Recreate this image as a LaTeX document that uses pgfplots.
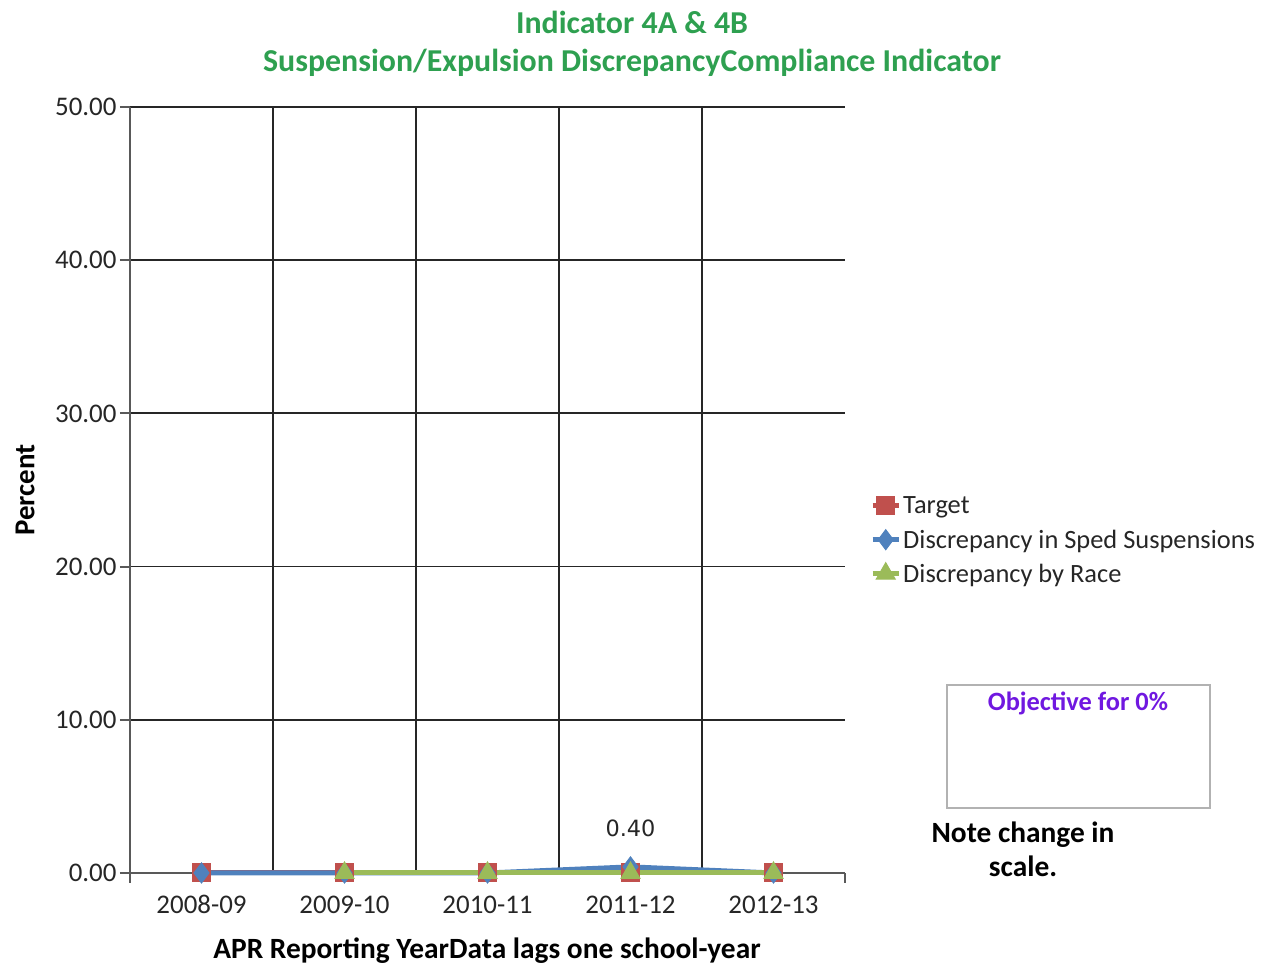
\documentclass[border=0pt]{standalone}
\usepackage{fontspec}
\setmainfont{Carlito}
\newfontfamily\dejavu{DejaVu Sans}
\usepackage{pgfplots}
\pgfplotsset{compat=1.18}
\definecolor{tgt}{RGB}{192,80,77}
\definecolor{sped}{RGB}{79,129,189}
\definecolor{race}{RGB}{155,187,89}
\definecolor{ttl}{RGB}{46,160,80}
\definecolor{purp}{RGB}{112,24,224}
\begin{document}
\begin{tikzpicture}[x=1bp,y=1bp]
\path[use as bounding box] (0,0) rectangle (1265,966);
\begin{axis}[
  at={(130bp,93bp)}, anchor=south west,
  scale only axis, width=715bp, height=766bp,
  xmin=-0.5, xmax=4.5, ymin=0, ymax=50,
  axis x line*=bottom, axis y line*=left,
  x axis line style={-, draw=gray!70!black, line width=2.5bp},
  y axis line style={-, draw=gray!70!black, line width=2.5bp},
  clip=false,
  tick align=outside,
  xtick={0,1,2,3,4},
  xticklabels={2008-09,2009-10,2010-11,2011-12,2012-13},
  major tick length=10bp,
  x tick style={draw=none},
  extra x ticks={0.5,1.5,2.5,3.5},
  extra x tick labels={},
  extra x tick style={grid=major, tick style={draw=gray!70!black, line width=2bp}},
  minor xtick={-0.5,4.5},
  minor tick length=10bp,
  minor x tick style={draw=gray!70!black, line width=2bp},
  ytick={0,10,20,30,40,50},
  y tick style={draw=gray!70!black, line width=2bp},
  ymajorgrids,
  major grid style={draw=black!85, line width=1.8bp},
  yticklabel style={/pgf/number format/.cd, fixed, fixed zerofill, precision=2, assume math mode=true},
  ticklabel style={font=\fontsize{27}{31}\selectfont, text=black!85},
  xticklabel style={yshift=-8bp, text height=19bp, text depth=2bp},
  legend style={at={(1.035,0.5)}, anchor=north west, draw=none, fill=none,
    font=\fontsize{26.5}{30}\selectfont, row sep=3bp, inner sep=0pt,
    nodes={inner sep=2bp, text=black!85, minimum height=31bp}},
  legend cell align=left,
  legend image code/.code={\draw[mark repeat=2,mark phase=2,#1] plot coordinates {(0bp,0bp)(13bp,0bp)(26bp,0bp)};},
]
\addplot[color=tgt, line width=5bp, mark=square*, mark size=9bp, mark options={fill=tgt, draw=tgt, line width=1bp}]
  coordinates {(0,0)(1,0)(2,0)(3,0)(4,0)};
\addlegendentry{Target}
\addplot[color=sped, line width=5bp, mark=diamond*, mark size=10bp, mark options={fill=sped, draw=sped, line width=1bp}]
  coordinates {(0,0)(1,0)(2,0)(3,0.4)(4,0)};
\addlegendentry{Discrepancy in Sped Suspensions}
\addplot[color=race, line width=5bp, mark=triangle*, mark size=11bp, mark options={fill=race, draw=race, line width=1bp}]
  coordinates {(1,0)(2,0)(3,0)(4,0)};
\addlegendentry{Discrepancy by Race}
\node[font=\dejavu\fontsize{22.5}{26}\selectfont, text=black!85] at (axis cs:3,0.4) [yshift=39bp] {0.40};
\end{axis}
\node[font=\bfseries\fontsize{32}{36}\selectfont, text=ttl] at (632,944) {Indicator 4A \& 4B};
\node[font=\bfseries\fontsize{32}{36}\selectfont, text=ttl] at (632,903) {Suspension/Expulsion DiscrepancyCompliance Indicator};
\node[font=\bfseries\fontsize{29}{33}\selectfont, rotate=90, text=black] at (25,476) {Percent};
\node[font=\bfseries\fontsize{29.5}{33}\selectfont, text=black] at (487,15) {APR Reporting YearData lags one school-year};
\draw[draw=gray!60, line width=1.5bp] (947,158) rectangle (1210,281);
\node[font=\bfseries\fontsize{26.5}{30}\selectfont, text=purp] at (1078,263) {Objective for 0\%};
\node[font=\bfseries\fontsize{29.5}{34}\selectfont, text=black, align=center] at (1023,117) {Note change in\\scale.};
\end{tikzpicture}
\end{document}
